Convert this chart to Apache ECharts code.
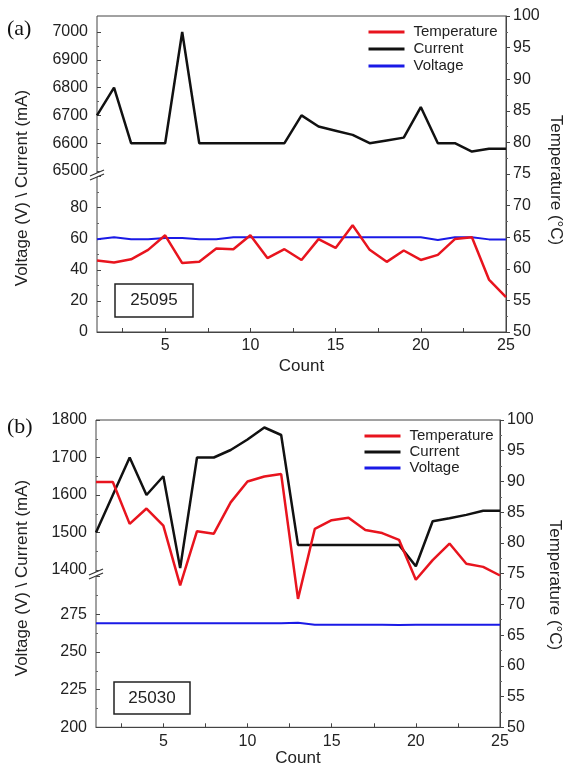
<!DOCTYPE html>
<html>
<head>
<meta charset="utf-8">
<script src="https://cdn.jsdelivr.net/npm/echarts@6.0.0/dist/echarts.min.js"></script>
<style>
html,body{margin:0;padding:0;background:#fff;}
#chart{width:572px;height:772px;}
</style>
</head>
<body>
<div id="chart"></div>
<script>
// ---------- data ----------
var counts = [1,2,3,4,5,6,7,8,9,10,11,12,13,14,15,16,17,18,19,20,21,22,23,24,25];

// panel (a) — 25095
var tempA = [61.3,61.0,61.5,63.0,65.3,60.9,61.1,63.2,63.1,65.3,61.7,63.1,61.4,64.7,63.3,66.9,63.0,61.1,62.9,61.4,62.2,64.7,65.0,58.3,55.5];
var currentA = [6700,6800,6600,6600,6600,7000,6600,6600,6600,6600,6600,6600,6700,6660,6645,6630,6600,6610,6620,6730,6600,6600,6570,6580,6580];
var voltageA = [59.7,60.9,59.7,59.7,60.5,60.5,59.7,59.7,60.9,60.9,60.9,60.9,60.9,60.9,60.9,60.9,60.9,60.9,60.9,60.9,59.2,60.9,60.9,59.6,59.6];

// panel (b) — 25030
var tempB = [89.9,89.9,83.1,85.6,82.8,73.1,81.9,81.5,86.6,90.0,90.8,91.2,70.9,82.3,83.7,84.1,82.1,81.6,80.5,74.0,77.2,79.9,76.6,76.1,74.7];
var currentB = [1500,1600,1700,1600,1650,1405,1700,1700,1720,1748,1780,1760,1467,1467,1467,1467,1467,1467,1467,1410,1530,1538,1547,1558,1558];
var voltageB = [269,269,269,269,269,269,269,269,269,269,269,269,269.3,268,268,268,268,268,267.8,268,268,268,268,268,268];

// tick labels
var countTicks = [5,10,15,20,25];
var countMinorTicks = [2.5,5,7.5,10,12.5,15,17.5,20,22.5,25];
var legendNames = ['Temperature','Current','Voltage'];
var boxLabels = ['25095','25030'];
var panelLabels = ['(a)','(b)'];

// ---------- styles ----------
var FONT = 'Liberation Sans, Arial, sans-serif';
var TXT = '#222';
var RED = '#e8141e', BLACK = '#111111', BLUE = '#1a1ae6';
function plain(v){ return String(v); }

function pairs(ys){ return counts.map(function(c,i){ return [c, ys[i]]; }); }

function fullX(gi, nameGap){
  return {
    gridIndex: gi, type: 'value', min: 1, max: 25,
    name: 'Count', nameLocation: 'middle', nameGap: nameGap,
    nameTextStyle: {fontFamily: FONT, fontSize: 17, color: TXT},
    axisLine: {show: true, lineStyle: {color: '#444', width: 1}},
    axisTick: {show: true, inside: true, length: 4, customValues: countMinorTicks, lineStyle: {color: '#444'}},
    axisLabel: {customValues: countTicks, margin: 6, fontFamily: FONT, fontSize: 16, color: TXT, formatter: plain},
    splitLine: {show: false}
  };
}
function hiddenX(gi){
  return {gridIndex: gi, type: 'value', min: 1, max: 25, show: false};
}
function tempY(gi){
  return {
    gridIndex: gi, type: 'value', position: 'right', min: 50, max: 100, interval: 5,
    axisLine: {show: true, lineStyle: {color: '#444'}},
    axisTick: {show: true, inside: false, length: 4, lineStyle: {color: '#444'}},
    minorTick: {show: true, splitNumber: 2, length: 2, lineStyle: {color: '#666'}},
    axisLabel: {margin: 7, fontFamily: FONT, fontSize: 16, color: TXT, formatter: plain},
    splitLine: {show: false}
  };
}
function leftY(gi, min, max, interval, hideMax){
  return {
    gridIndex: gi, type: 'value', position: 'left', min: min, max: max, interval: interval,
    axisLine: {show: false},
    axisTick: {show: true, inside: true, length: 4, lineStyle: {color: '#444'}},
    minorTick: {show: true, splitNumber: 2, length: 2, lineStyle: {color: '#666'}},
    axisLabel: {margin: 9, fontFamily: FONT, fontSize: 16, color: TXT, showMaxLabel: !hideMax, formatter: plain},
    splitLine: {show: false}
  };
}
function line(name, color, xi, yi, data, width, z){
  return {
    name: name, type: 'line', xAxisIndex: xi, yAxisIndex: yi,
    data: pairs(data), symbol: 'none', showSymbol: false, z: z,
    lineStyle: {color: color, width: width}, itemStyle: {color: color},
    animation: false
  };
}
function breakMark(x, y){
  return {
    type: 'group', x: x, y: y, z: 100,
    children: [
      {type: 'polygon', shape: {points: [[-7,3],[7,-3],[7,1],[-7,7]]}, style: {fill: '#fff'}},
      {type: 'line', shape: {x1: -7, y1: 3, x2: 7, y2: -3}, style: {stroke: '#333', lineWidth: 1.2}},
      {type: 'line', shape: {x1: -7, y1: 7, x2: 7, y2: 1}, style: {stroke: '#333', lineWidth: 1.2}}
    ]
  };
}
function box(x, y, w, h, label){
  return {
    type: 'group', x: x, y: y, z: 50,
    children: [
      {type: 'rect', shape: {x: 0, y: 0, width: w, height: h}, style: {fill: '#fff', stroke: '#222', lineWidth: 1.5}},
      {type: 'text', x: w/2, y: h/2, style: {text: label, fontFamily: FONT, fontSize: 17, fill: TXT, align: 'center', verticalAlign: 'middle'}}
    ]
  };
}
function vtext(x, y, text, rot){
  return {type: 'text', x: x, y: y, rotation: rot,
    style: {text: text, fontFamily: FONT, fontSize: 17, fill: TXT, align: 'center', verticalAlign: 'middle'}};
}
function legendAt(left, top, gap){
  return {data: legendNames, orient: 'vertical', left: left, top: top, itemWidth: 36, itemHeight: 14, itemGap: gap,
    itemStyle: {opacity: 0}, lineStyle: {width: 3},
    textStyle: {fontFamily: FONT, fontSize: 15, color: TXT, padding: [0,0,0,4]}, selectedMode: false};
}

var option = {
  backgroundColor: '#fff',
  animation: false,
  grid: [
    // panel a
    {left: 97, top: 16, width: 409, height: 316, show: true, borderColor: '#444', borderWidth: 1, backgroundColor: 'transparent'},
    {left: 97, top: 32, width: 409, height: 139},
    {left: 97, top: 176.6, width: 409, height: 155.4},
    // panel b
    {left: 96, top: 420, width: 404, height: 307.3, show: true, borderColor: '#444', borderWidth: 1, backgroundColor: 'transparent'},
    {left: 96, top: 420, width: 404, height: 150},
    {left: 96, top: 576.5, width: 404, height: 150.8}
  ],
  xAxis: [fullX(0, 26), hiddenX(1), hiddenX(2), fullX(3, 22), hiddenX(4), hiddenX(5)],
  yAxis: [
    tempY(0),
    leftY(1, 6500, 7000, 100, false),
    leftY(2, 0, 100, 20, true),
    tempY(3),
    leftY(4, 1400, 1800, 100, false),
    leftY(5, 200, 300, 25, true)
  ],
  legend: [legendAt(362, 19.5, 2), legendAt(358, 423.5, 1)],
  series: [
    line('Current', BLACK, 1, 1, currentA, 2.5, 3),
    line('Voltage', BLUE, 2, 2, voltageA, 2, 4),
    line('Temperature', RED, 0, 0, tempA, 2.5, 5),
    line('Current', BLACK, 4, 4, currentB, 2.5, 3),
    line('Voltage', BLUE, 5, 5, voltageB, 2, 4),
    line('Temperature', RED, 3, 3, tempB, 2.5, 5)
  ],
  graphic: [
    {type: 'text', x: 7, y: 29, style: {text: panelLabels[0], fontFamily: 'Liberation Serif, Times New Roman, serif', fontSize: 22, fill: '#111', verticalAlign: 'middle'}},
    {type: 'text', x: 7, y: 427, style: {text: panelLabels[1], fontFamily: 'Liberation Serif, Times New Roman, serif', fontSize: 22, fill: '#111', verticalAlign: 'middle'}},
    box(115, 284, 78, 33, boxLabels[0]),
    box(114, 682, 76, 32, boxLabels[1]),
    vtext(22, 188, 'Voltage (V) \\ Current (mA)', Math.PI/2),
    vtext(556, 180, 'Temperature (°C)', -Math.PI/2),
    vtext(22, 578, 'Voltage (V) \\ Current (mA)', Math.PI/2),
    vtext(555, 585, 'Temperature (°C)', -Math.PI/2),
    breakMark(97, 173),
    breakMark(96, 572)
  ]
};

var chart = echarts.init(document.getElementById('chart'), null, {renderer: 'canvas'});
chart.setOption(option);
</script>
</body>
</html>
